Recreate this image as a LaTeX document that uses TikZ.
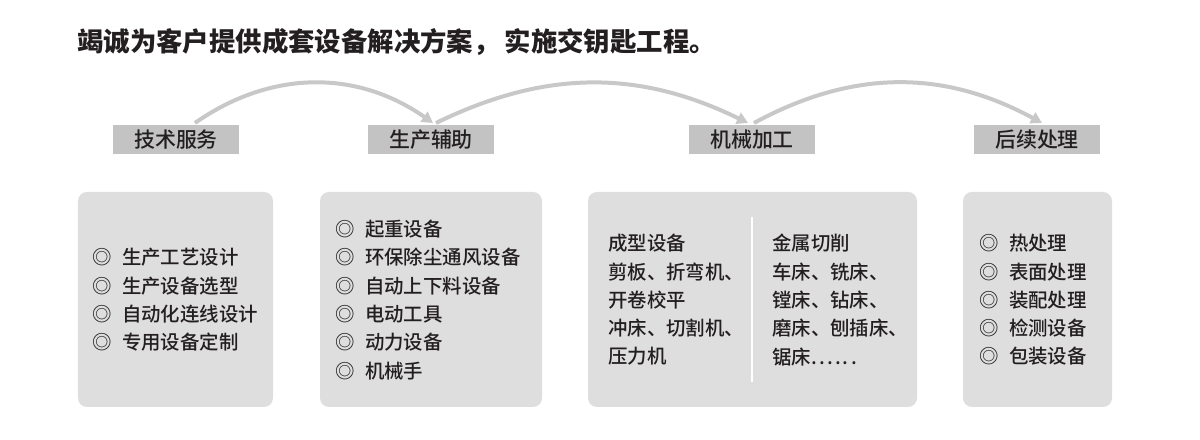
\documentclass[tikz,border=0pt]{standalone}
\usepackage{fontspec}
\setmainfont{Noto Sans CJK SC}[UprightFont={* Medium},BoldFont={* Black}]
\usetikzlibrary{arrows.meta}
\definecolor{txt}{HTML}{231F20}
\definecolor{hdr}{HTML}{C3C3C3}
\definecolor{pnl}{HTML}{DEDEDE}
\definecolor{arcc}{HTML}{C8C8C8}
\newcommand\bul{◎\hspace{10.5bp}}
\newcommand\spdots{.\kern2.2bp.\kern2.2bp.\kern2.2bp.\kern2.2bp.\kern2.2bp.}
\begin{document}
\begin{tikzpicture}[x=1bp,y=1bp,
  hdrbox/.style={fill=hdr, minimum width=126bp, minimum height=29bp, inner sep=0pt,
    text=txt, font=\fontsize{21}{21}\selectfont},
  panel/.style={fill=pnl, rounded corners=9bp, inner sep=0pt},
  listtxt/.style={anchor=west, align=left, inner sep=0pt, text=txt,
    font=\fontsize{19.5}{28.4}\selectfont},
  flow/.style={draw=arcc, line width=4bp, -{Triangle[length=11bp,width=12bp]}},
  divider/.style={draw=white, line width=1.2bp}
]
\useasboundingbox (0,0) rectangle (1200,440);

% title
\node[anchor=west, inner sep=0pt, text=txt, font=\fontsize{26.5}{26.5}\selectfont\bfseries]
  (title) at (77,398) {竭诚为客户提供成套设备解决方案，\hspace{5bp}实施交钥匙工程。};

% header boxes
\node[hdrbox] (h1) at (176,300.5) {技术服务};
\node[hdrbox] (h2) at (431,300.5) {生产辅助};
\node[hdrbox] (h3) at (752,300.5) {机械加工};
\node[hdrbox] (h4) at (1037,300.5) {后续处理};

% arcs
\coordinate (a1s) at (195,317);
\coordinate (a1e) at (433,317);
\coordinate (a2s) at (436,317);
\coordinate (a2e) at (748,317);
\coordinate (a3s) at (754,317);
\coordinate (a3e) at (1042,317);
\draw[flow] (a1s) to[bend left=35] (a1e);
\draw[flow] (a2s) to[bend left=26] (a2e);
\draw[flow] (a3s) to[bend left=28.5] (a3e);

% panels
\node[panel, minimum width=195bp, minimum height=215bp] (p1) at (175.5,140.5) {};
\node[panel, minimum width=222bp, minimum height=215bp] (p2) at (431,140.5) {};
\node[panel, minimum width=329bp, minimum height=215bp] (p3) at (752.5,140.5) {};
\node[panel, minimum width=149bp, minimum height=215bp] (p4) at (1037.5,140.5) {};

% divider in panel 3
\coordinate (dtop) at (752,223);
\coordinate (dbot) at (752,58);
\draw[divider] (dtop) -- (dbot);

% lists
\node[listtxt] (l1) at (92,140) {\bul 生产工艺设计\\\bul 生产设备选型\\\bul 自动化连线设计\\\bul 专用设备定制};
\node[listtxt] (l2) at (335,140) {\bul 起重设备\\\bul 环保除尘通风设备\\\bul 自动上下料设备\\\bul 电动工具\\\bul 动力设备\\\bul 机械手};
\node[listtxt] (l3a) at (608,140) {成型设备\\剪板、折弯机、\\开卷校平\\冲床、切割机、\\压力机};
\node[listtxt] (l3b) at (772,140) {金属切削\\车床、铣床、\\镗床、钻床、\\磨床、刨插床、\\锯床\spdots};
\node[listtxt] (l4) at (979,140) {\bul 热处理\\\bul 表面处理\\\bul 装配处理\\\bul 检测设备\\\bul 包装设备};
\end{tikzpicture}
\end{document}
